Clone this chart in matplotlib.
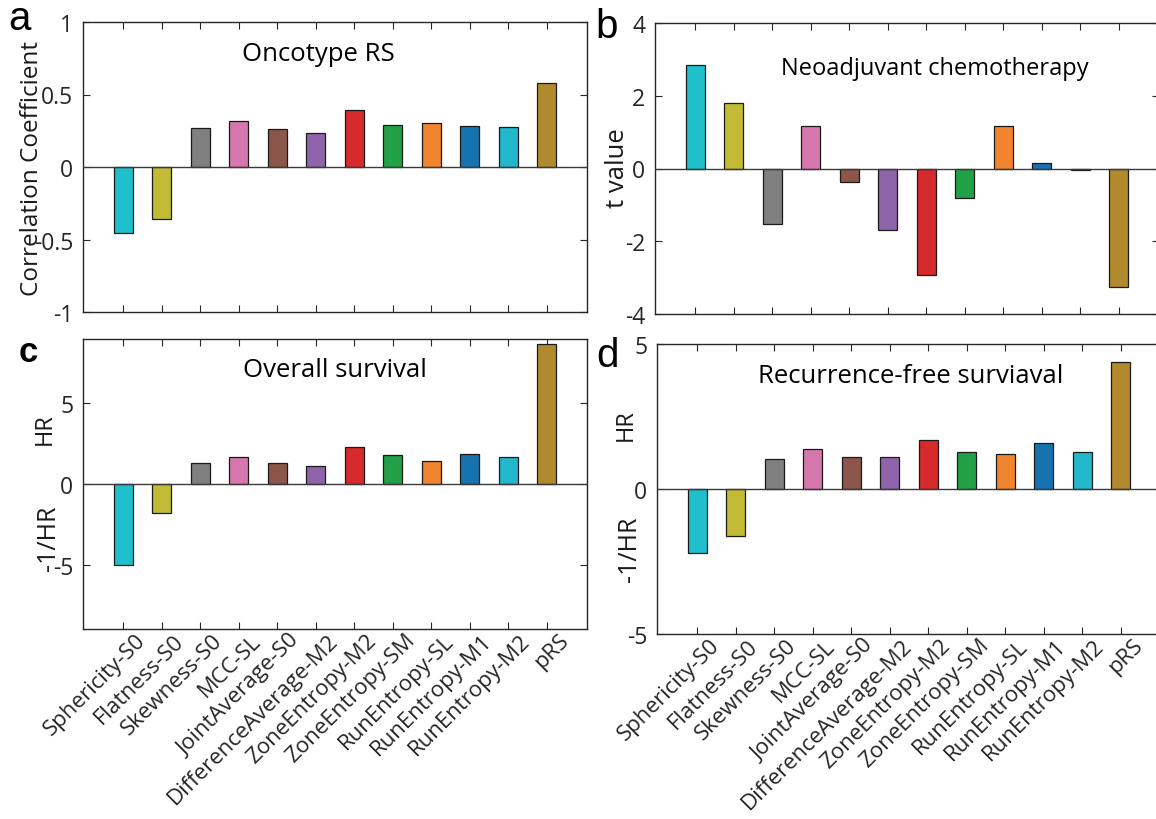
import matplotlib
matplotlib.use("Agg")
import matplotlib.pyplot as plt
import matplotlib.transforms as mtransforms
import numpy as np

features = ["Sphericity-S0", "Flatness-S0", "Skewness-S0", "MCC-SL", "JointAverage-S0",
            "DifferenceAverage-M2", "ZoneEntropy-M2", "ZoneEntropy-SM", "RunEntropy-SL",
            "RunEntropy-M1", "RunEntropy-M2", "pRS"]
oncotype_r = [-0.455, -0.361, 0.269, 0.317, 0.260, 0.232, 0.395, 0.292, 0.303, 0.285, 0.276, 0.577]
neoadj_t = [2.84, 1.80, -1.53, 1.16, -0.37, -1.70, -2.92, -0.81, 1.16, 0.16, -0.05, -3.25]
os_hr = [-5.0, -1.80, 1.28, 1.69, 1.28, 1.10, 2.29, 1.80, 1.40, 1.88, 1.69, 8.68]
rfs_hr = [-2.21, -1.63, 1.03, 1.39, 1.10, 1.10, 1.70, 1.29, 1.20, 1.60, 1.29, 4.37]
bar_colors = ["#1FBFCB", "#C1BB36", "#808080", "#D677AD", "#8C564B", "#8F64AA",
              "#D62A2C", "#21A046", "#F0842F", "#1773B0", "#22B7CB", "#B08A2C"]

plt.rcParams['font.family'] = ['Open Sans', 'DejaVu Sans']
fig = plt.figure(figsize=(11.56, 8.2), dpi=100)

W, H = 1156, 820
def ax_at(l, t, r, b):
    return fig.add_axes([l / W, 1 - b / H, (r - l) / W, (b - t) / H])

axa = ax_at(83, 23, 587, 313)
axb = ax_at(655, 24, 1159, 315)
axc = ax_at(83, 340, 587, 630)
axd = ax_at(657, 345, 1161, 635)

x = np.arange(1, len(features) + 1)
spine_col = "#262626"
txt_col = "#1a1a1a"

def style(ax, vals, ylim, yticks, yticklabels, show_x):
    ax.bar(x, vals, width=0.5, color=bar_colors, edgecolor="#1a1a1a", linewidth=0.9, zorder=3)
    ax.axhline(0, color="#3a3a3a", lw=1.0, zorder=4)
    ax.set_xlim(-0.05, 13.05)
    ax.set_ylim(*ylim)
    ax.set_yticks(yticks)
    ax.set_yticklabels(yticklabels)
    ax.set_xticks(x)
    ax.set_xticklabels([])
    if show_x:
        base = mtransforms.blended_transform_factory(ax.transData, ax.transAxes)
        off = mtransforms.ScaledTranslation(19 / 100, -8 / 100, fig.dpi_scale_trans)
        for xi, name in zip(x, features):
            ax.text(xi, 0, name, transform=base + off, rotation=45, ha='right', va='center',
                    rotation_mode='anchor', fontsize=16, color="#262626", clip_on=False)
    ax.tick_params(direction='in', length=5, width=0.8, color=spine_col,
                   top=True, right=True, labelsize=16.5, labelcolor="#262626", pad=7)
    for s in ax.spines.values():
        s.set_color(spine_col)
        s.set_linewidth(1.0)

style(axa, oncotype_r, (-1, 1), [-1, -0.5, 0, 0.5, 1], ["-1", "-0.5", "0", "0.5", "1"], False)
style(axb, neoadj_t, (-4, 4), [-4, -2, 0, 2, 4], ["-4", "-2", "0", "2", "4"], False)
style(axc, os_hr, (-9, 9), [-5, 0, 5], ["-5", "0", "5"], True)
style(axd, rfs_hr, (-5, 5), [-5, 0, 5], ["-5", "0", "5"], True)

# y-axis labels
axa.text(-0.101, 0.5, "Correlation Coefficient", transform=axa.transAxes, rotation=90,
         ha='center', va='center', fontsize=17.5, color=txt_col)
axb.text(-0.074, 0.506, "t value", transform=axb.transAxes, rotation=90,
         ha='center', va='center', fontsize=18.5, color=txt_col)
tc = mtransforms.blended_transform_factory(axc.transAxes, axc.transData)
td = mtransforms.blended_transform_factory(axd.transAxes, axd.transData)
axc.text(-0.076, 3.46, "HR", transform=tc, rotation=90, ha='center', va='center', fontsize=17, color=txt_col)
axc.text(-0.069, -3.31, "-1/HR", transform=tc, rotation=90, ha='center', va='center', fontsize=18, color=txt_col)
axd.text(-0.062, 2.23, "HR", transform=td, rotation=90, ha='center', va='center', fontsize=17, color=txt_col)
axd.text(-0.054, -2.05, "-1/HR", transform=td, rotation=90, ha='center', va='center', fontsize=18, color=txt_col)

# panel titles (inside axes)
axa.text(6.075, 0.78, "Oncotype RS", ha='center', va='center', fontsize=18.5, color="black")
axb.text(7.22, 2.75, "Neoadjuvant chemotherapy", ha='center', va='center', fontsize=17, color="black")
axc.text(6.49, 7.09, "Overall survival", ha='center', va='center', fontsize=18.5, color="black")
axd.text(6.54, 3.92, "Recurrence-free surviaval", ha='center', va='center', fontsize=18.5, color="black")

def ftext(px, py, s, **kw):
    fig.text(px / W, 1 - py / H, s, **kw)

lf = ['Liberation Sans', 'DejaVu Sans']
ftext(19, 19, "a", ha='center', va='center', fontsize=29, family=lf)
ftext(607, 27, "b", ha='center', va='center', fontsize=29, family=lf)
ftext(28, 353, "c", ha='center', va='center', fontsize=25, family=lf, weight='bold')
ftext(607, 356, "d", ha='center', va='center', fontsize=29, family=lf)

fig.savefig("out.png", dpi=100)
